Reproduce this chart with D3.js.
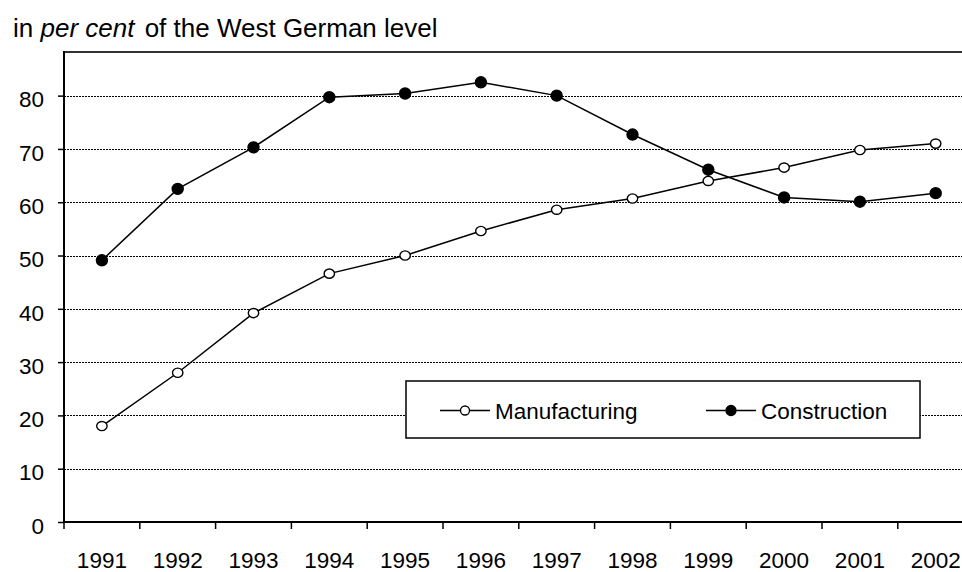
<!DOCTYPE html>
<html>
<head>
<meta charset="utf-8">
<script src="https://cdn.jsdelivr.net/npm/d3@7"></script>
<style>
  body { margin: 0; background: #fff; }
  svg { display: block; font-family: "Liberation Sans", Arial, sans-serif; }
</style>
</head>
<body>
<div id="chart"></div>
<script>
// data
var years = ["1991","1992","1993","1994","1995","1996","1997","1998","1999","2000","2001","2002"]
var manufacturing = [18.0, 28.0, 39.2, 46.6, 50.0, 54.6, 58.6, 60.7, 64.0, 66.5, 69.8, 71.0]
var construction = [49.1, 62.5, 70.3, 79.7, 80.4, 82.5, 80.0, 72.7, 66.1, 60.9, 60.1, 61.7]
var yTicks = [0, 10, 20, 30, 40, 50, 60, 70, 80]
var seriesNames = ["Manufacturing", "Construction"]

var dims = { width: 962, height: 572, left: 64, top: 52, bottom: 522, step: 75.8 }
var fontSize = "22.5px"

var svg = d3.select("#chart").append("svg")
    .attr("width", dims.width)
    .attr("height", dims.height)

var x = d3.scaleBand()
    .domain(years)
    .range([dims.left, dims.left + years.length * dims.step])
    .padding(0)

var y = d3.scaleLinear()
    .domain([0, 88])
    .range([dims.bottom, dims.top + 1])

// gridlines
svg.append("g")
    .selectAll("line")
    .data(yTicks.filter(d => d > 0))
    .enter()
    .append("line")
    .attr("x1", dims.left)
    .attr("x2", dims.width)
    .attr("y1", d => Math.round(y(d)) + 0.5)
    .attr("y2", d => Math.round(y(d)) + 0.5)
    .attr("stroke", "#000")
    .attr("stroke-width", 1)
    .attr("stroke-dasharray", "2,1")

// top border
svg.append("line")
    .attr("x1", dims.left).attr("x2", dims.width)
    .attr("y1", dims.top).attr("y2", dims.top)
    .attr("stroke", "#333").attr("stroke-width", 2)

// y axis
var yAxis = svg.append("g")
    .attr("transform", `translate(${dims.left},0)`)
    .call(d3.axisLeft(y).tickValues(yTicks).tickSize(6).tickPadding(14))
yAxis.select(".domain").remove()
yAxis.selectAll(".tick line").attr("stroke", "#000").attr("stroke-width", 1.5)
yAxis.selectAll(".tick text")
    .attr("font-size", fontSize)
    .attr("font-family", "Liberation Sans, Arial, sans-serif")
    .attr("fill", "#000")
    .attr("dy", "0.5em")
yAxis.append("line")
    .attr("x1", 0).attr("x2", 0)
    .attr("y1", dims.top - 1).attr("y2", dims.bottom + 1)
    .attr("stroke", "#000").attr("stroke-width", 2)

// x axis
var xAxis = svg.append("g")
    .attr("transform", `translate(0,${dims.bottom})`)
    .call(d3.axisBottom(x).tickSize(0).tickPadding(30))
xAxis.select(".domain").remove()
xAxis.selectAll(".tick text")
    .attr("font-size", fontSize)
    .attr("font-family", "Liberation Sans, Arial, sans-serif")
    .attr("fill", "#000")
xAxis.append("line")
    .attr("x1", dims.left - 1).attr("x2", dims.width)
    .attr("y1", 0).attr("y2", 0)
    .attr("stroke", "#000").attr("stroke-width", 2)
// tick marks at category boundaries
xAxis.append("g")
    .selectAll("line")
    .data(years)
    .enter()
    .append("line")
    .attr("x1", d => x(d))
    .attr("x2", d => x(d))
    .attr("y1", 0)
    .attr("y2", 7)
    .attr("stroke", "#000")
    .attr("stroke-width", 1.5)

// lines
var line = d3.line()
    .x((d, i) => x(years[i]) + x.bandwidth() / 2)
    .y(d => y(d))

function drawSeries(values, filled) {
    svg.append("path")
        .datum(values)
        .attr("d", line)
        .attr("fill", "none")
        .attr("stroke", "#000")
        .attr("stroke-width", 1.5)

    svg.append("g")
        .selectAll("ellipse")
        .data(values)
        .enter()
        .append("ellipse")
        .attr("cx", (d, i) => x(years[i]) + x.bandwidth() / 2)
        .attr("cy", d => y(d))
        .attr("rx", filled ? 5.5 : 5.2)
        .attr("ry", filled ? 5.5 : 4.6)
        .attr("fill", filled ? "#000" : "#fff")
        .attr("stroke", "#000")
        .attr("stroke-width", 1.4)
}

drawSeries(manufacturing, false)
drawSeries(construction, true)

// legend
var legend = svg.append("g")
legend.append("rect")
    .attr("x", 406).attr("y", 381)
    .attr("width", 514).attr("height", 57)
    .attr("fill", "#fff")
    .attr("stroke", "#000")
    .attr("stroke-width", 1.5)

var legendX = [440, 706]
seriesNames.forEach((name, i) => {
    var lx = legendX[i]
    legend.append("line")
        .attr("x1", lx).attr("x2", lx + 50)
        .attr("y1", 410.5).attr("y2", 410.5)
        .attr("stroke", "#000").attr("stroke-width", 1.5)
    legend.append("circle")
        .attr("cx", lx + 25).attr("cy", 410.5)
        .attr("r", i == 0 ? 4.5 : 5)
        .attr("fill", i == 0 ? "#fff" : "#000")
        .attr("stroke", "#000").attr("stroke-width", 1.3)
    legend.append("text")
        .attr("x", lx + 55).attr("y", 419)
        .attr("font-size", fontSize)
        .attr("fill", "#000")
        .text(name)
})

// title
var title = svg.append("text")
    .attr("x", 13).attr("y", 37)
    .attr("font-size", "26px")
    .attr("fill", "#000")
title.append("tspan").text("in ")
title.append("tspan").attr("font-style", "italic").text("per cent")
title.append("tspan").attr("dx", 3).text(" of the West German level")
</script>
</body>
</html>
